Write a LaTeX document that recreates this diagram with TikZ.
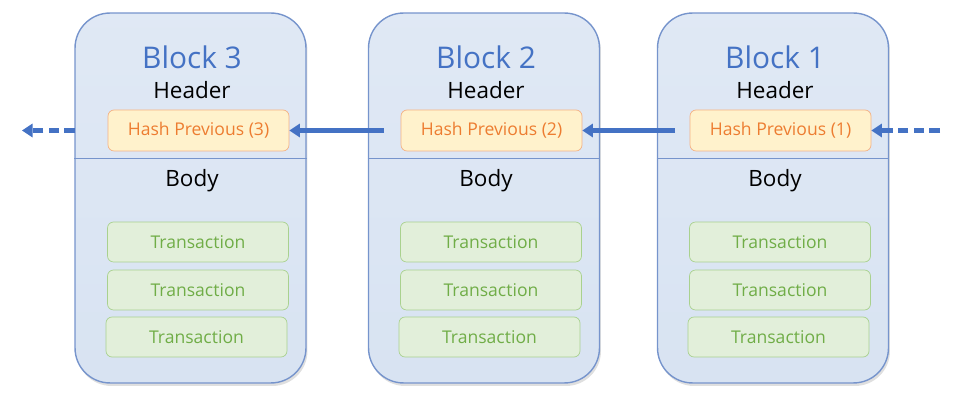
\documentclass[tikz,border=0pt]{standalone}
\usepackage{fontspec}
\setmainfont{Open Sans}
\usetikzlibrary{arrows.meta,shadows}
\pgfdeclarelayer{blocklayer}
\pgfsetlayers{blocklayer,main}
\definecolor{blockfill}{RGB}{216,227,242}
\definecolor{blockdraw}{RGB}{118,148,204}
\definecolor{titleblue}{RGB}{68,114,196}
\definecolor{hashfill}{RGB}{255,242,204}
\definecolor{hashdraw}{RGB}{244,177,131}
\definecolor{hashtext}{RGB}{237,125,49}
\definecolor{txfill}{RGB}{226,239,218}
\definecolor{txdraw}{RGB}{169,209,142}
\definecolor{txtext}{RGB}{112,173,71}
\definecolor{chainblue}{RGB}{68,114,196}
\tikzstyle{block}=[draw=blockdraw, line width=0.8pt, top color=blockfill!80!white, bottom color=blockfill, rounded corners=0.7cm, minimum width=4.62cm, minimum height=7.4cm, drop shadow={shadow xshift=0.03cm, shadow yshift=-0.06cm, opacity=0.25}]
\tikzstyle{title}=[text=titleblue, font=\fontsize{17}{20}\selectfont]
\tikzstyle{part}=[text=black, font=\fontsize{12.8}{15}\selectfont]
\tikzstyle{hash}=[fill=hashfill, draw=hashdraw, rounded corners=0.12cm, minimum width=3.62cm, minimum height=0.82cm, text=hashtext, font=\fontsize{10}{12}\selectfont]
\tikzstyle{tx}=[fill=txfill, draw=txdraw, rounded corners=0.12cm, minimum width=3.62cm, minimum height=0.8cm, text=txtext, font=\fontsize{10}{12}\selectfont]
\tikzstyle{divider}=[draw=blockdraw, line width=0.5pt]
\tikzstyle{chain}=[draw=chainblue, line width=2.4pt, -{Triangle[length=6pt,width=7.5pt]}]
\tikzstyle{open chain}=[style=chain, dash pattern=on 6pt off 3pt]

\begin{document}
\begin{tikzpicture}[x=0.02cm, y=-0.02cm]
	\useasboundingbox (0,0) rectangle (955,401);
	\begin{pgfonlayer}{blocklayer}
		\node [style=block] (b3) at (190.5,198) {};
		\node [style=block] (b2) at (484,198) {};
		\node [style=block] (b1) at (773,198) {};
		\draw [style=divider] (b3.west |- 0,158) -- (b3.east |- 0,158);
		\draw [style=divider] (b2.west |- 0,158) -- (b2.east |- 0,158);
		\draw [style=divider] (b1.west |- 0,158) -- (b1.east |- 0,158);
	\end{pgfonlayer}
	% block 3
	\node [style=title] (t3) at (192,57) {Block 3};
	\node [style=part] (hd3) at (192,90) {Header};
	\node [style=hash] (h3) at (198.5,130.5) {Hash Previous (3)};
	\node [style=part] (bd3) at (192,181) {Body};
	\node [style=tx] (x31) at (198,242) {Transaction};
	\node [style=tx] (x32) at (198,290) {Transaction};
	\node [style=tx] (x33) at (196.5,337) {Transaction};
	% block 2
	\node [style=title] (t2) at (486,57) {Block 2};
	\node [style=part] (hd2) at (486,90) {Header};
	\node [style=hash] (h2) at (491.5,130.5) {Hash Previous (2)};
	\node [style=part] (bd2) at (486,181) {Body};
	\node [style=tx] (x21) at (491,242) {Transaction};
	\node [style=tx] (x22) at (491,290) {Transaction};
	\node [style=tx] (x23) at (489.5,337) {Transaction};
	% block 1
	\node [style=title] (t1) at (775,57) {Block 1};
	\node [style=part] (hd1) at (775,90) {Header};
	\node [style=hash] (h1) at (780.5,130.5) {Hash Previous (1)};
	\node [style=part] (bd1) at (775,181) {Body};
	\node [style=tx] (x11) at (780,242) {Transaction};
	\node [style=tx] (x12) at (780,290) {Transaction};
	\node [style=tx] (x13) at (778.5,337) {Transaction};
	% chain
	\coordinate (out3) at (75,130.5);
	\coordinate (end3) at (22,130.5);
	\coordinate (out2) at (384,130.5);
	\coordinate (out1) at (675,130.5);
	\coordinate (in1) at (940,130.5);
	\draw [style=open chain] (out3) -- (end3);
	\draw [style=chain] (out2) -- (h3.east);
	\draw [style=chain] (out1) -- (h2.east);
	\draw [style=open chain] (in1) -- (h1.east);
\end{tikzpicture}
\end{document}
